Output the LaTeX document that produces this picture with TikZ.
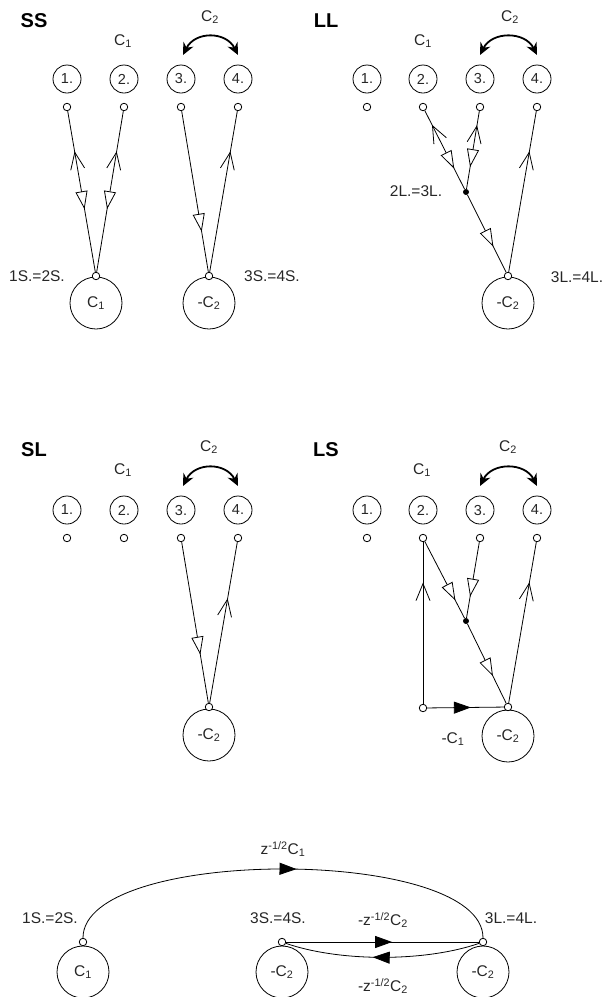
\documentclass[tikz,border=0pt]{standalone}
\usepackage{fontspec}
\setmainfont{Liberation Sans}
\usetikzlibrary{arrows.meta,decorations.markings}
\begin{document}
\begin{tikzpicture}[x=1pt,y=-1pt,
  lf/.style={font=\fontsize{15.5}{17}\selectfont, text=black!85, inner sep=0pt},
  ttl/.style={font=\fontsize{20}{22}\selectfont\bfseries, inner sep=0pt},
  numc/.style={circle,draw,line width=0.8pt,minimum size=28pt,inner sep=0pt,font=\fontsize{14.5}{16}\selectfont,text=black!85},
  sc/.style={circle,draw,line width=0.8pt,minimum size=7.5pt,inner sep=0pt,fill=white},
  bigc/.style={circle,draw,line width=0.8pt,minimum size=52pt,inner sep=0pt,font=\fontsize{15.5}{17}\selectfont,text=black!85},
  jd/.style={circle,fill=black,minimum size=6pt,inner sep=0pt},
  ln/.style={draw,line width=0.8pt},
  stk/.style={postaction={decorate,decoration={markings,mark=at position #1 with {\arrowreversed[line width=0.8pt]{Straight Barb[length=17pt,width=14pt]}}}}},
  tri/.style={postaction={decorate,decoration={markings,mark=at position #1 with {\arrow[line width=0.8pt]{Triangle[length=18pt,width=12pt,fill=white]}}}}},
  fa/.style={postaction={decorate,decoration={markings,mark=at position #1 with {\arrow{Triangle[length=17pt,width=12pt]}}}}},
  swp/.style={line width=1.8pt,{Stealth[length=12pt,width=11pt]}-{Stealth[length=12pt,width=11pt]}}
]
\useasboundingbox (0,0) rectangle (605,997);

% ---------------- SS ----------------
\node[ttl] (tSS) at (34,21) {SS};
\node[lf] (SSc1) at (123,41) {C\textsubscript{1}};
\node[lf] (SSc2) at (210,17) {C\textsubscript{2}};
\coordinate (SSl) at (183,55); \coordinate (SSr) at (238,55);
\draw[swp] (SSl) .. controls (195,31) and (226,31) .. (SSr);
\node[numc] (SSn1) at (67,79) {1.};
\node[numc] (SSn2) at (124,79) {2.};
\node[numc] (SSn3) at (181,79) {3.};
\node[numc] (SSn4) at (238,79) {4.};
\node[sc] (SSs1) at (67,107) {};
\node[sc] (SSs2) at (124,107) {};
\node[sc] (SSs3) at (181,107) {};
\node[sc] (SSs4) at (238,107) {};
\node[bigc] (SSb1) at (96,303) {C\textsubscript{1}};
\node[bigc] (SSb2) at (209,303) {-C\textsubscript{2}};
\node[sc] (SSj1) at (96,276) {};
\node[sc] (SSj2) at (209,276) {};
\draw[ln,stk=0.25,tri=0.61] (SSs1) -- (SSj1);
\draw[ln,stk=0.25,tri=0.61] (SSs2) -- (SSj1);
\draw[ln,tri=0.75] (SSs3) -- (SSj2);
\draw[ln,stk=0.25] (SSs4) -- (SSj2);
\node[lf] (SSe1) at (37,276) {1S.=2S.};
\node[lf] (SSe2) at (272,276) {3S.=4S.};

% ---------------- LL ----------------
\node[ttl] (tLL) at (326,21) {LL};
\node[lf] (LLc1) at (423,41) {C\textsubscript{1}};
\node[lf] (LLc2) at (510,17) {C\textsubscript{2}};
\coordinate (LLl) at (480,55); \coordinate (LLr) at (537,55);
\draw[swp] (LLl) .. controls (492,31) and (525,31) .. (LLr);
\node[numc] (LLn1) at (367,79) {1.};
\node[numc] (LLn2) at (423,79) {2.};
\node[numc] (LLn3) at (480,79) {3.};
\node[numc] (LLn4) at (537,79) {4.};
\node[sc] (LLs1) at (367,107) {};
\node[sc] (LLs2) at (423,107) {};
\node[sc] (LLs3) at (480,107) {};
\node[sc] (LLs4) at (537,107) {};
\node[jd] (LLd) at (466,192) {};
\node[bigc] (LLb) at (508,303) {-C\textsubscript{2}};
\node[sc] (LLj) at (508,276) {};
\draw[ln,stk=0.18,tri=0.74] (LLs2) -- (LLd);
\draw[ln,stk=0.18,tri=0.72] (LLs3) -- (LLd);
\draw[ln,tri=0.67] (LLd) -- (LLj);
\draw[ln,stk=0.25] (LLs4) -- (LLj);
\node[lf] (LLe1) at (416,191) {2L.=3L.};
\node[lf] (LLe2) at (577,277) {3L.=4L.};

% ---------------- SL ----------------
\node[ttl] (tSL) at (34,450) {SL};
\node[lf] (SLc1) at (123,470) {C\textsubscript{1}};
\node[lf] (SLc2) at (209,447) {C\textsubscript{2}};
\coordinate (SLl) at (183,486); \coordinate (SLr) at (238,486);
\draw[swp] (SLl) .. controls (195,462) and (226,462) .. (SLr);
\node[numc] (SLn1) at (67,510) {1.};
\node[numc] (SLn2) at (124,510) {2.};
\node[numc] (SLn3) at (181,510) {3.};
\node[numc] (SLn4) at (238,510) {4.};
\node[sc] (SLs1) at (67,538) {};
\node[sc] (SLs2) at (124,538) {};
\node[sc] (SLs3) at (181,538) {};
\node[sc] (SLs4) at (238,538) {};
\node[bigc] (SLb) at (209,735) {-C\textsubscript{2}};
\node[sc] (SLj) at (209,707) {};
\draw[ln,tri=0.70] (SLs3) -- (SLj);
\draw[ln,stk=0.35] (SLs4) -- (SLj);

% ---------------- LS ----------------
\node[ttl] (tLS) at (326,450) {LS};
\node[lf] (LSc1) at (422,470) {C\textsubscript{1}};
\node[lf] (LSc2) at (508,447) {C\textsubscript{2}};
\coordinate (LSl) at (480,486); \coordinate (LSr) at (537,486);
\draw[swp] (LSl) .. controls (492,462) and (525,462) .. (LSr);
\node[numc] (LSn1) at (367,510) {1.};
\node[numc] (LSn2) at (423,510) {2.};
\node[numc] (LSn3) at (480,510) {3.};
\node[numc] (LSn4) at (537,510) {4.};
\node[sc] (LSs1) at (367,538) {};
\node[sc] (LSs2) at (423,538) {};
\node[sc] (LSs3) at (480,538) {};
\node[sc] (LSs4) at (537,538) {};
\node[jd] (LSd) at (466,621) {};
\node[bigc] (LSb) at (508,736) {-C\textsubscript{2}};
\node[sc] (LSj) at (508,707) {};
\node[sc] (LSk) at (423,708) {};
\draw[ln,stk=0.25] (LSs2) -- (LSk);
\draw[ln,tri=0.77] (LSs2) -- (LSd);
\draw[ln,tri=0.72] (LSs3) -- (LSd);
\draw[ln,tri=0.66] (LSd) -- (LSj);
\draw[ln,stk=0.25] (LSs4) -- (LSj);
\draw[ln,fa=0.57] (LSk) -- (LSj);
\node[lf] (LSe) at (453,739) {-C\textsubscript{1}};

% ---------------- bottom graph ----------------
\node[bigc] (Bb1) at (83,972) {C\textsubscript{1}};
\node[bigc] (Bb2) at (282,972) {-C\textsubscript{2}};
\node[bigc] (Bb3) at (483,972) {-C\textsubscript{2}};
\node[sc] (Bs1) at (83,942) {};
\node[sc] (Bs2) at (282,942) {};
\node[sc] (Bs3) at (483,942) {};
\draw[ln,fa=0.53] (Bs1) .. controls (83,846) and (483,846) .. (Bs3);
\draw[ln,fa=0.55] (Bs2) -- (Bs3);
\draw[ln,fa=0.55] (Bs3) .. controls (425,962) and (340,962) .. (Bs2);
\node[lf] (Bt) at (283,849) {z\textsuperscript{-1/2}C\textsubscript{1}};
\node[lf] (Be1) at (50,918) {1S.=2S.};
\node[lf] (Be2) at (278,918) {3S.=4S.};
\node[lf] (Be3) at (511,918) {3L.=4L.};
\node[lf] (Bu) at (383,920) {-z\textsuperscript{-1/2}C\textsubscript{2}};
\node[lf] (Bd) at (383,986) {-z\textsuperscript{-1/2}C\textsubscript{2}};
\end{tikzpicture}
\end{document}
